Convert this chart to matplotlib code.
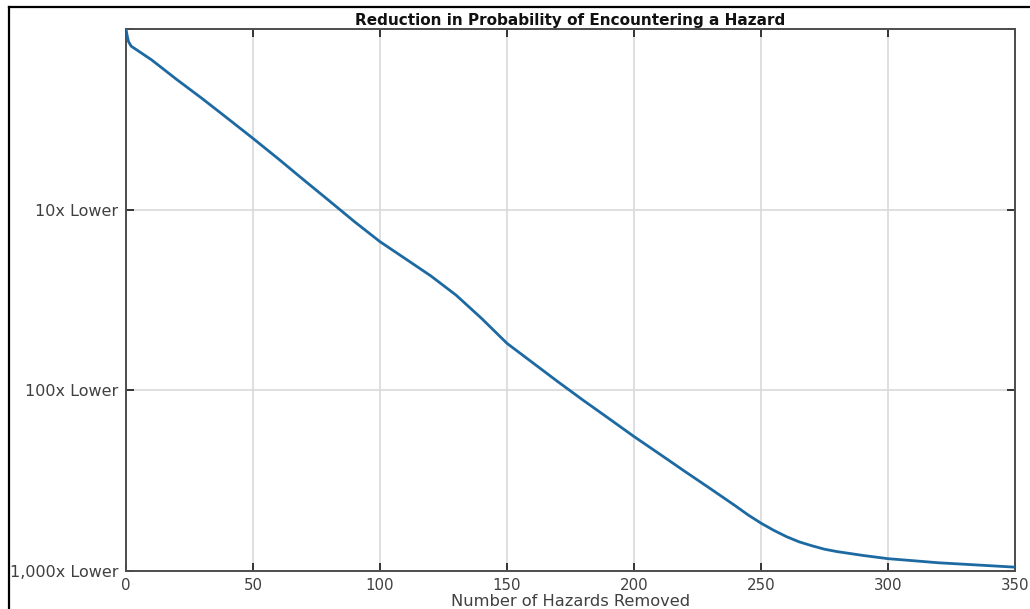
import matplotlib
matplotlib.use("Agg")
import matplotlib.pyplot as plt
from matplotlib.lines import Line2D
from matplotlib.ticker import NullLocator

# ---- data ----
hazards_removed = [0, 0.5, 1, 2, 10, 20, 30, 40, 50, 60, 70, 80, 90, 100,
                   110, 120, 130, 140, 150, 160, 170, 180, 190, 200, 210,
                   220, 230, 240, 245, 250, 255, 260, 265, 270, 275, 280,
                   285, 290, 300, 310, 320, 330, 340, 350]
relative_probability = [1.0, 0.912, 0.851, 0.804, 0.676, 0.525, 0.412, 0.320,
                        0.248, 0.191, 0.146, 0.112, 0.0857, 0.0665, 0.0535,
                        0.0430, 0.0336, 0.0250, 0.0182, 0.01426, 0.01117,
                        0.00881, 0.00700, 0.00555, 0.00445, 0.00356, 0.00286,
                        0.00229, 0.00204, 0.00184, 0.00168, 0.00155, 0.00145,
                        0.00138, 0.00132, 0.00128, 0.00125, 0.00122, 0.00117,
                        0.00114, 0.00111, 0.00109, 0.00107, 0.00105]
x_ticks = [0, 50, 100, 150, 200, 250, 300, 350]
y_ticks = [1e-3, 1e-2, 1e-1, 1.0]
y_tick_labels = ["1,000x Lower", "100x Lower", "10x Lower", ""]
title = "Reduction in Probability of Encountering a Hazard"
x_label = "Number of Hazards Removed"

plt.rcParams["font.family"] = ["DejaVu Sans"]

W, H = 1030, 609
fig = plt.figure(figsize=(W / 100, H / 100), dpi=100)
fig.patch.set_facecolor("white")

left, right, top, bottom = 126, 1015, 29, 571
ax = fig.add_axes([left / W, 1 - bottom / H, (right - left) / W, (bottom - top) / H])

ax.plot(hazards_removed, relative_probability, color="#1d6aa3", lw=2.0,
        solid_joinstyle="round", zorder=3)

ax.set_yscale("log")
ax.set_xlim(0, 350)
ax.set_ylim(1e-3, 1.0)
ax.set_xticks(x_ticks)
ax.set_yticks(y_ticks)
ax.set_yticklabels(y_tick_labels)
ax.yaxis.set_minor_locator(NullLocator())
ax.xaxis.set_minor_locator(NullLocator())

ax.grid(True, which="major", color="#d9d9d9", lw=1.2, zorder=0)
ax.tick_params(axis="both", direction="in", top=True, right=True,
               length=6, width=1.3, color="#262626", labelcolor="#404040")
ax.tick_params(axis="y", pad=5.5, labelsize=11.5)
ax.tick_params(axis="x", pad=5, labelsize=10.8)
for s in ax.spines.values():
    s.set_color("#4d4d4d")
    s.set_linewidth(1.4)

ax.set_title(title, fontsize=11.0, fontweight="bold", color="#111111", pad=3)
ax.set_xlabel(x_label, fontsize=11.7, color="#404040", labelpad=0.5)

# outer frame of the image (top and left edges visible)
fig.add_artist(Line2D([9 / W, 9 / W], [0, 1 - 6.5 / H], transform=fig.transFigure,
                      color="black", lw=1.6))
fig.add_artist(Line2D([9 / W, 1], [1 - 6.5 / H, 1 - 6.5 / H], transform=fig.transFigure,
                      color="black", lw=1.6))

fig.savefig("out.png", dpi=100, facecolor="white")
